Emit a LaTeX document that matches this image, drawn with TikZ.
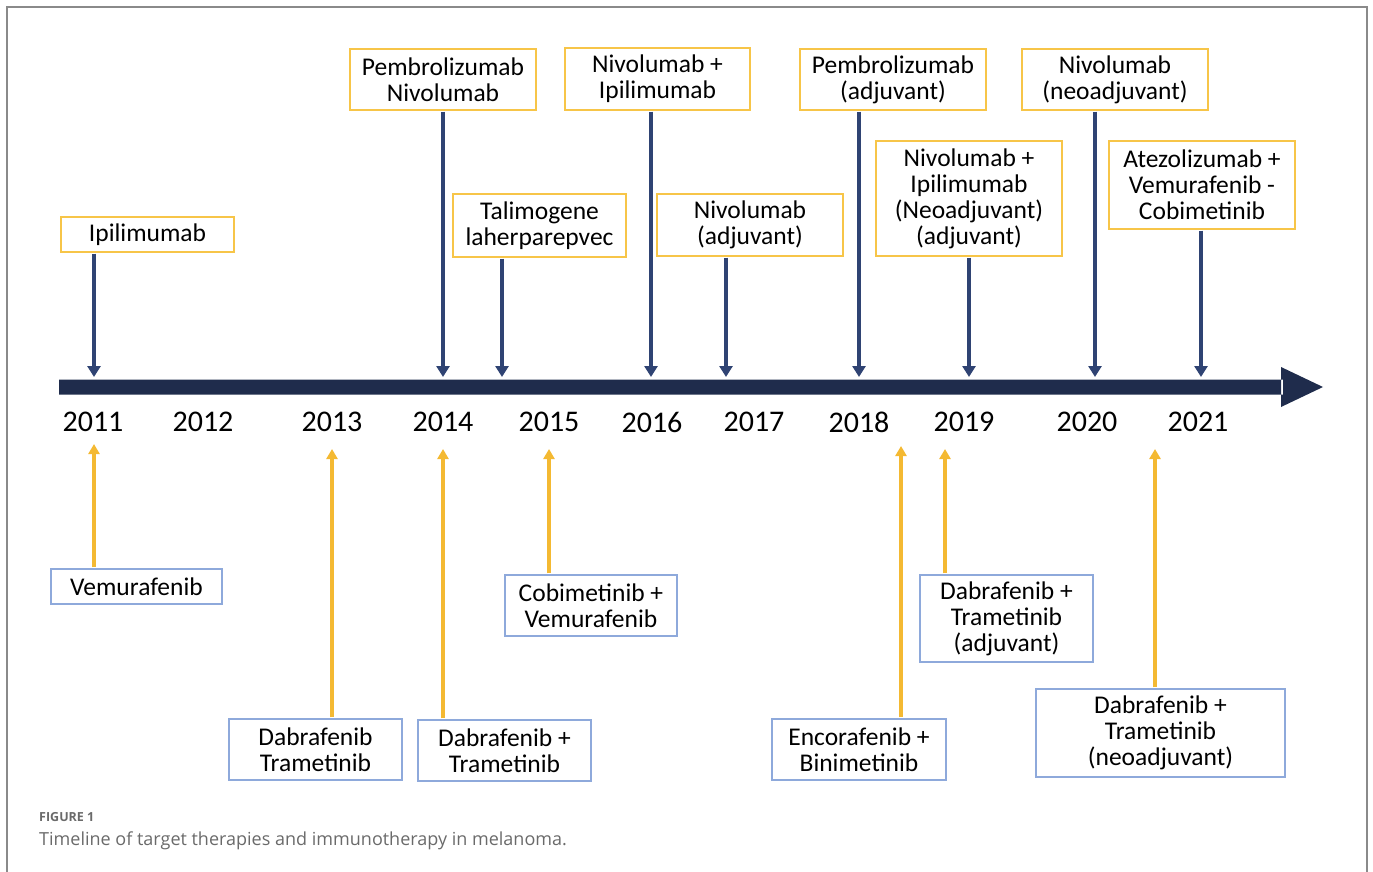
\documentclass[tikz,border=0pt]{standalone}
\usepackage{fontspec}
\setmainfont{Carlito}
\newfontfamily\capfont{Open Sans}
\usetikzlibrary{arrows.meta}
\definecolor{barnavy}{HTML}{1F2C4C}
\definecolor{arrnavy}{HTML}{2F4373}
\definecolor{amber}{HTML}{F4B932}
\definecolor{amberline}{HTML}{F7C548}
\definecolor{bluebox}{HTML}{8EA9DB}
\definecolor{frame}{HTML}{8A8A8A}
\definecolor{capgray}{HTML}{6A6A6A}
\tikzset{
  drug/.style={draw, line width=1.5pt, align=center, inner sep=0pt,
    font=\fontsize{25.5}{26}\selectfont, text=black},
  immuno/.style={drug, draw=amberline},
  targeted/.style={drug, draw=bluebox},
  darr/.style={draw=arrnavy, line width=3.6pt,
    -{Triangle[width=13pt,length=11pt]}, shorten <=0.8pt},
  yarr/.style={draw=amber, line width=3.6pt,
    -{Triangle[width=11pt,length=10pt]}, shorten <=0.8pt},
  year/.style={font=\fontsize{30}{32}\selectfont, text=black}
}
\begin{document}
\begin{tikzpicture}[x=1pt,y=-1pt]
\useasboundingbox (0,0) rectangle (1373,872);
% figure frame
\draw[frame, line width=1.6pt] (7,872) -- (7,7) -- (1367,7) -- (1367,872);

% timeline bar with arrow head
\fill[barnavy] (59,379.5) rectangle (1283,394.5)
  (1281,367) -- (1323,387) -- (1281,407) -- cycle;

% years
\node[year] (y2011) at (93,422) {2011};
\node[year] (y2012) at (203,422) {2012};
\node[year] (y2013) at (332,422) {2013};
\node[year] (y2014) at (443,422) {2014};
\node[year] (y2015) at (549,422) {2015};
\node[year] (y2016) at (652,422) {2016};
\node[year] (y2017) at (754,422) {2017};
\node[year] (y2018) at (859,422) {2018};
\node[year] (y2019) at (964,422) {2019};
\node[year] (y2020) at (1087,422) {2020};
\node[year] (y2021) at (1198,422) {2021};

% immunotherapy (above the timeline)
\node[immuno, minimum width=173pt, minimum height=35pt] (ipi) at (147.5,234.5) {Ipilimumab};
\node[immuno, minimum width=186pt, minimum height=61pt] (pemnivo) at (443,79.5) {Pembrolizumab\\Nivolumab};
\node[immuno, minimum width=173pt, minimum height=63pt] (tvec) at (539.5,225.5) {Talimogene\\laherparepvec};
\node[immuno, minimum width=185pt, minimum height=62pt] (nivoipi) at (657.5,79) {Nivolumab +\\Ipilimumab};
\node[immuno, minimum width=186pt, minimum height=62pt] (nivoadj) at (750,225) {Nivolumab\\(adjuvant)};
\node[immuno, minimum width=186pt, minimum height=61pt] (pemadj) at (893,79.5) {Pembrolizumab\\(adjuvant)};
\node[immuno, minimum width=186pt, minimum height=115pt] (nivoipineo) at (969,198.5) {Nivolumab +\\Ipilimumab\\(Neoadjuvant)\\(adjuvant)};
\node[immuno, minimum width=186pt, minimum height=61pt] (nivoneo) at (1115,79.5) {Nivolumab\\(neoadjuvant)};
\node[immuno, minimum width=186pt, minimum height=88pt] (atezo) at (1202,185) {Atezolizumab +\\Vemurafenib -\\Cobimetinib};

% arrow tips on the timeline (top)
\coordinate (a1) at (94,377);
\coordinate (a2) at (443,377);
\coordinate (a3) at (502,377);
\coordinate (a4) at (651,377);
\coordinate (a5) at (726,377);
\coordinate (a6) at (859,377);
\coordinate (a7) at (969,377);
\coordinate (a8) at (1095,377);
\coordinate (a9) at (1201,377);

\draw[darr] (ipi.south -| a1) -- (a1);
\draw[darr] (pemnivo.south -| a2) -- (a2);
\draw[darr] (tvec.south -| a3) -- (a3);
\draw[darr] (nivoipi.south -| a4) -- (a4);
\draw[darr] (nivoadj.south -| a5) -- (a5);
\draw[darr] (pemadj.south -| a6) -- (a6);
\draw[darr] (nivoipineo.south -| a7) -- (a7);
\draw[darr] (nivoneo.south -| a8) -- (a8);
\draw[darr] (atezo.south -| a9) -- (a9);

% targeted therapies (below the timeline)
\node[targeted, minimum width=171pt, minimum height=35pt] (vemu) at (136.5,586.5) {Vemurafenib};
\node[targeted, minimum width=173pt, minimum height=61pt] (dabtra) at (315.5,749.5) {Dabrafenib\\Trametinib};
\node[targeted, minimum width=173pt, minimum height=61pt] (dabtraplus) at (504.5,750.5) {Dabrafenib +\\Trametinib};
\node[targeted, minimum width=172pt, minimum height=61pt] (cobivemu) at (591,605.5) {Cobimetinib +\\Vemurafenib};
\node[targeted, minimum width=174pt, minimum height=61pt] (encobini) at (859,749.5) {Encorafenib +\\Binimetinib};
\node[targeted, minimum width=173pt, minimum height=87pt] (dabtraadj) at (1006.5,618.5) {Dabrafenib +\\Trametinib\\(adjuvant)};
\node[targeted, minimum width=249pt, minimum height=88pt] (dabtraneo) at (1160.5,733) {Dabrafenib +\\Trametinib\\(neoadjuvant)};

% arrow tips under the timeline (bottom)
\coordinate (b1) at (94,444);
\coordinate (b2) at (332,449);
\coordinate (b3) at (443,449);
\coordinate (b4) at (549,449);
\coordinate (b5) at (901,446);
\coordinate (b6) at (945,449);
\coordinate (b7) at (1155,449);

\draw[yarr] (vemu.north -| b1) -- (b1);
\draw[yarr] (dabtra.north -| b2) -- (b2);
\draw[yarr] (dabtraplus.north -| b3) -- (b3);
\draw[yarr] (cobivemu.north -| b4) -- (b4);
\draw[yarr] (encobini.north -| b5) -- (b5);
\draw[yarr] (dabtraadj.north -| b6) -- (b6);
\draw[yarr] (dabtraneo.north -| b7) -- (b7);

% caption
\node[anchor=base west, inner sep=0pt, text=capgray,
  font=\capfont\bfseries\fontsize{12.5}{15}\selectfont] (fig) at (39,821) {FIGURE 1};
\node[anchor=base west, inner sep=0pt, text=capgray,
  font=\capfont\fontsize{18}{20}\selectfont] (cap) at (39,845)
  {Timeline of target therapies and immunotherapy in melanoma.};
\end{tikzpicture}
\end{document}
